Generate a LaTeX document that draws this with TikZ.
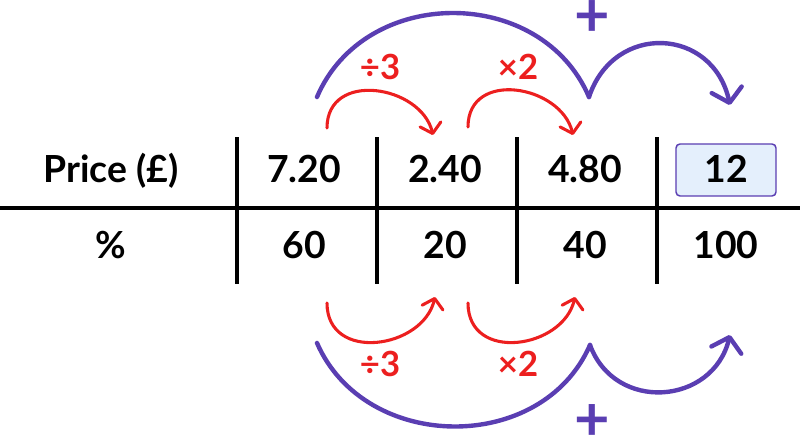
\documentclass[tikz,border=0pt]{standalone}
\usepackage{fontspec}
\setmainfont{Lato}
\usetikzlibrary{arrows.meta}
\definecolor{opRed}{HTML}{EC1F1F}
\definecolor{addPurple}{HTML}{5A3EB2}
\definecolor{boxBlue}{HTML}{E4EFFC}
\begin{document}
\begin{tikzpicture}[x=.75pt, y=.75pt,
	cell/.style={font=\fontsize{28}{32}\selectfont\bfseries, text height=19.5pt, text depth=0pt},
	rule/.style={line width=2.3pt},
	hop/.style={opRed, line width=2.3pt, line cap=round, -{Straight Barb[round, length=7pt, width=16pt]}},
	jump/.style={addPurple, line width=3.3pt, line cap=round},
	oplbl/.style={opRed, font=\fontsize{26}{30}\selectfont\bfseries, anchor=base},
	plus/.style={addPurple, font=\fontsize{46}{50}\selectfont\bfseries, inner sep=0pt}]
	\useasboundingbox (0,0) rectangle (800,442);
	% table
	\draw[rule] (0,234)--(800,234);
	\foreach \x in {237,377,517,657}
		\draw[rule] (\x,158)--(\x,305);
	\node[cell] (price) at (111,272) {Price (£)};
	\node[cell] (p1) at (304,272) {7.20};
	\node[cell] (p2) at (445,272) {2.40};
	\node[cell] (p3) at (585,272) {4.80};
	\node[cell, draw=addPurple, fill=boxBlue, rounded corners=3pt, line width=1.1pt, minimum width=75pt, minimum height=39pt] (p4) at (726,272) {12};
	\node[cell] (pct) at (111,196) {\%};
	\node[cell] (q1) at (304,196) {60};
	\node[cell] (q2) at (445,196) {20};
	\node[cell] (q3) at (585,196) {40};
	\node[cell] (q4) at (726,196) {100};
	% arrow ends
	\coordinate (a0) at (327,314); \coordinate (a1) at (433,307);
	\coordinate (b0) at (468,315); \coordinate (b1) at (573,307);
	\coordinate (c0) at (327,139); \coordinate (c1) at (435,145);
	\coordinate (d0) at (468,139); \coordinate (d1) at (575,145);
	\coordinate (u0) at (317,345); \coordinate (u1) at (589,345); \coordinate (u2) at (730,337);
	\coordinate (l0) at (317,99); \coordinate (l1) at (590,97); \coordinate (l2) at (730,107);
	% red steps
	\draw[hop] (a0) .. controls +(0,58) and +(-12,50) .. (a1);
	\draw[hop] (b0) .. controls +(0,58) and +(-12,50) .. (b1);
	\draw[hop] (c0) .. controls +(0,-60) and +(-12,-52) .. (c1);
	\draw[hop] (d0) .. controls +(0,-60) and +(-12,-52) .. (d1);
	\node[oplbl] (div1) at (380,362) {÷3};
	\node[oplbl] (mul1) at (518,362) {×2};
	\node[oplbl] (div2) at (380,65) {÷3};
	\node[oplbl] (mul2) at (518,65) {×2};
	% purple sums
	\draw[jump] (u0) .. controls +(48,112) and +(-48,112) .. (u1);
	\draw[jump, -{Straight Barb[round, length=10pt, width=23pt]}] (u1) .. controls +(25,75) and +(-17,78) .. (u2);
	\draw[jump] (l0) .. controls +(48,-110) and +(-48,-110) .. (l1);
	\draw[jump, -{Straight Barb[round, length=10pt, width=23pt]}] (l1) .. controls +(25,-68) and +(-17,-70) .. (l2);
	\node[plus] (plus1) at (592,423) {+};
	\node[plus] (plus2) at (592,19) {+};
\end{tikzpicture}
\end{document}
